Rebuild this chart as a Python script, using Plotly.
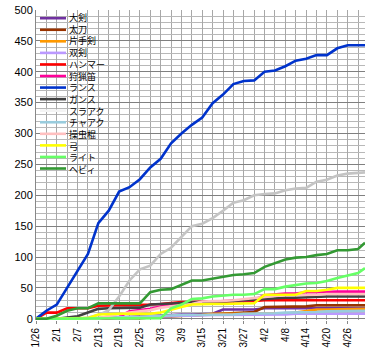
import pandas as pd
import plotly.graph_objects as go

# sample dates (every 3 days from 1/26, plus the last day 5/1)
start = pd.Timestamp("2018-01-26")
sample_dates = list(pd.date_range("2018-01-26", "2018-04-29", freq="3D")) + [pd.Timestamp("2018-05-01")]
days = [(d - start).days for d in sample_dates]

tick_labels = ["1/26", "2/1", "2/7", "2/13", "2/19", "2/25", "3/3", "3/9", "3/15",
               "3/21", "3/27", "4/2", "4/8", "4/14", "4/20", "4/26"]
tick_days = [(pd.Timestamp("2018-" + t.replace("/", "-")) - start).days for t in tick_labels]
y_ticks = [0, 50, 100, 150, 200, 250, 300, 350, 400, 450, 500]

names = ["大剣", "太刀", "片手剣", "双剣", "ハンマー", "狩猟笛", "ランス", "ガンス",
         "スラアク", "チャアク", "操虫棍", "弓", "ライト", "ヘビィ"]
colors = ["#7030A0", "#993300", "#FF9900", "#BB99FF", "#FF0000", "#FF0099", "#0033CC", "#404040",
          "#C4C4C4", "#99CCDD", "#FFC0C0", "#FFFF00", "#66FF66", "#339933"]

great_sword = [0,0,0,0,0,0,0,0,2,3,4,5,6,6,7,7,7,8,15,15,15,15,17,17,17,17,17,17,17,17,17,17,17]
long_sword = [0,0,0,0,0,0,0,0,0,0,1,2,3,4,5,6,7,8,9,10,10,11,19,19,19,19,20,22,22,22,22,22,22]
sword_shield = [0,0,0,0,0,0,1,2,2,3,3,4,4,5,5,5,6,8,8,8,8,8,8,8,8,10,13,15,15,15,16,16,16]
dual_blades = [0,0,0,0,0,0,0,0,0,1,2,3,4,5,5,5,6,6,6,6,7,7,7,7,7,8,8,8,8,8,8,8,8]
hammer = [0,10,10,17,17,17,21,22,22,22,22,23,24,26,27,27,28,28,28,28,29,29,30,30,30,30,30,30,30,30,30,30,30]
hunting_horn = [0,0,0,0,0,0,0,0,3,12,14,16,20,24,25,26,27,27,28,29,30,31,38,40,41,41,43,43,44,44,44,44,44]
lance = [0,13,23,50,79,105,155,175,206,213,226,245,259,284,300,314,326,349,363,380,385,386,400,402,409,418,421,427,427,438,443,443,443]
gunlance = [0,0,0,2,4,10,16,17,17,17,18,23,24,25,26,27,27,28,28,29,30,31,33,33,34,34,35,36,36,36,36,36,36]
switch_axe = [0,0,0,0,0,2,6,14,36,62,80,86,105,115,133,150,154,163,175,188,192,200,202,203,208,211,212,222,225,232,235,236,237]
charge_blade = [0,0,0,0,0,0,1,2,2,3,3,4,5,5,6,6,6,7,7,7,8,8,9,9,10,10,11,11,12,12,13,13,13]
insect_glaive = [0,0,0,0,0,0,0,5,8,10,12,14,18,20,23,24,28,28,29,30,32,33,36,37,38,38,39,39,40,40,40,40,40]
bow = [0,0,0,0,0,1,7,8,8,8,8,8,10,15,19,23,24,24,24,24,24,25,39,39,39,39,45,45,47,50,50,50,50]
light_bowgun = [0,0,0,0,0,0,0,0,0,0,0,0,1,17,23,32,33,36,38,39,39,40,48,48,52,55,57,58,61,66,70,74,82]
heavy_bowgun = [0,0,5,13,17,17,25,25,25,25,25,43,47,48,55,62,62,65,69,71,72,74,84,90,96,99,100,103,105,111,111,113,123]

series = [great_sword, long_sword, sword_shield, dual_blades, hammer, hunting_horn, lance,
          gunlance, switch_axe, charge_blade, insect_glaive, bow, light_bowgun, heavy_bowgun]
legend_colors = colors[:8] + ["#F4F4F4"] + colors[9:]

fig = go.Figure()
for name, col, vals in zip(names, colors, series):
    fig.add_trace(go.Scatter(x=days, y=vals, mode="lines", name=name,
                             line=dict(color=col, width=2.6), showlegend=False))

W, H = 369, 352
L, R, T, B = 36, 4, 6, 32.3
pw, ph = W - L - R, H - T - B
Y0 = -2

def xp(px):
    return (px - L) / pw

def yp(py):
    return (H - B - py) / ph

LEG_FS = 9
step = 1.3 * LEG_FS
first = 14.3
shapes = []
for i, col in enumerate(legend_colors):
    py = first + step * i
    shapes.append(dict(type="line", xref="paper", yref="paper", x0=xp(40), x1=xp(66),
                       y0=yp(py), y1=yp(py), line=dict(color=col, width=2.6)))
mid = first + step * (len(names) - 1) / 2
annotations = [dict(xref="paper", yref="paper", x=xp(66.5), y=yp(mid), text="<br>".join(names),
                    showarrow=False, xanchor="left", yanchor="middle", align="left",
                    font=dict(family="Noto Sans CJK JP", size=LEG_FS, color="#000000"))]

fig.update_layout(
    width=W, height=H,
    margin=dict(l=L, r=R, t=T, b=B),
    paper_bgcolor="white", plot_bgcolor="white",
    shapes=shapes, annotations=annotations,
    showlegend=False,
    xaxis=dict(range=[0, 95], tickmode="array", tickvals=tick_days, ticktext=tick_labels,
               tickangle=-90, showgrid=True, gridcolor="#A8A8A8", gridwidth=1,
               minor=dict(dtick=3, tick0=0, showgrid=True, gridcolor="#A8A8A8", gridwidth=1),
               zeroline=False, showline=False,
               ticks="outside", ticklen=3, tickcolor="#888888",
               tickfont=dict(family="Liberation Sans", size=10, color="#000000")),
    yaxis=dict(range=[Y0, 500], tickmode="array", tickvals=y_ticks,
               showgrid=True, gridcolor="#808080", gridwidth=1, ticklabeloverflow="allow",
               minor=dict(tickmode="array", tickvals=list(range(10, 500, 10)),
                          showgrid=True, gridcolor="#B8B8B8", gridwidth=1),
               zeroline=False, showline=True, linecolor="#888888",
               tickfont=dict(family="Liberation Sans", size=11, color="#000000")),
)

fig.write_html("out.html")
